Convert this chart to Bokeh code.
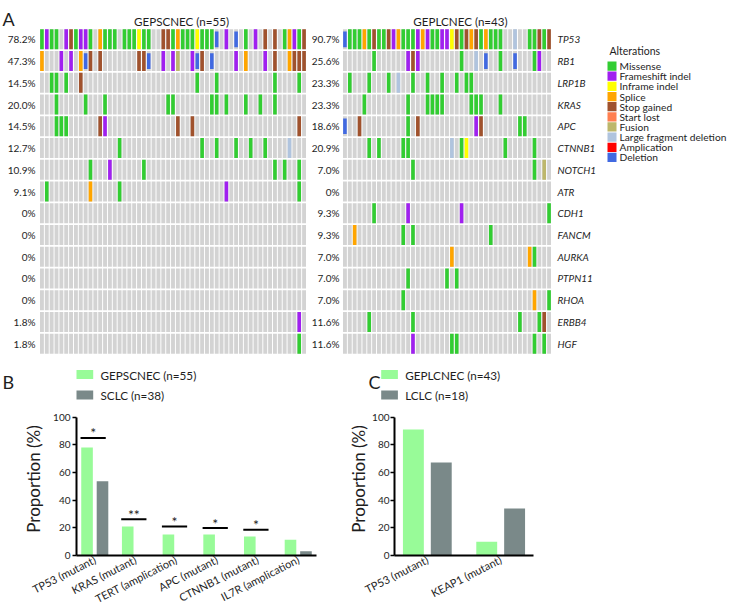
from bokeh.plotting import figure
from bokeh.models import (Range1d, FixedTicker, LinearAxis, ColumnDataSource,
                          FactorRange)
from bokeh.layouts import row, column
from bokeh.transform import dodge
from bokeh.embed import file_html
from bokeh.resources import INLINE
from bokeh.core.properties import value

FONT = "Lato"
INK = "#1e1e1e"
EMPTY = "#D3D3D3"
GREEN = "#98FB98"
GREY = "#7A8989"

# ---------------- data: oncoprint ----------------
genes = ["TP53", "RB1", "LRP1B", "KRAS", "APC", "CTNNB1", "NOTCH1", "ATR",
         "CDH1", "FANCM", "AURKA", "PTPN11", "RHOA", "ERBB4", "HGF"]

sc_title = "GEPSCNEC (n=55)"
lc_title = "GEPLCNEC (n=43)"

sc_pct = ["78.2%", "47.3%", "14.5%", "20.0%", "14.5%", "12.7%", "10.9%", "9.1%",
          "0%", "0%", "0%", "0%", "0%", "1.8%", "1.8%"]
lc_pct = ["90.7%", "25.6%", "23.3%", "23.3%", "18.6%", "20.9%", "7.0%", "0%",
          "9.3%", "9.3%", "7.0%", "7.0%", "7.0%", "11.6%", "11.6%"]

# one character per sample (see alt_codes); "." = no alteration
sc_rows = [
    "mfmm.fgmff" "m.smmm.mmm" "imm..ggmsm" "mmimmmx.f." "x.m.f.g.g." "msfmg",  # TP53
    "s...f.f.sx" "g.g......." "ggx..f.fu." ".fxg.x...." "f.s...f.g." ".sggg",  # RB1
    "..mm.m..g." ".........." ".........." "..m...m..." "........m." "...m.",  # LRP1B
    "...m.....m" "...m......" "......mm.." ".....mm.m." "..m..m..m." ".....",  # KRAS
    "...mmm...." "..gf......" "........g." ".g........" ".........." "...g.",  # APC
    ".........." "......m..." ".........." "...m..m..." "m..m..m..." ".d...",  # CTNNB1
    ".........." "m...f....." ".m........" ".........." "........m." "m..m.",  # NOTCH1
    ".m........" "s.....m..." ".........." "........f." ".........." "...m.",  # ATR
    ".........." ".........." ".........." ".........." ".........." ".....",  # CDH1
    ".........." ".........." ".........." ".........." ".........." ".....",  # FANCM
    ".........." ".........." ".........." ".........." ".........." ".....",  # AURKA
    ".........." ".........." ".........." ".........." ".........." ".....",  # PTPN11
    ".........." ".........." ".........." ".........." ".........." ".....",  # RHOA
    ".........." ".........." ".........." ".........." ".........." "...f.",  # ERBB4
    ".........." ".........." ".........." ".........." ".........." "...m.",  # HGF
]

lc_rows = [
    "xmmmsmgmmg" "fsmmmfsfmm" "ffigmgsgms" "mmm..d..mm" "gmg",  # TP53
    "......m..." "...fgf...." "....m..d.x" "..m..x...m" "f..",  # RB1
    ".m...m...m" ".d..m..m.." "m..m.mm..." ".........." "...",  # LRP1B
    "....m....." "...m...mmm" "m.....mmm." "..m......." "...",  # KRAS
    "x..g......" "...m.g...." ".......fg." "......mm.." "...",  # APC
    ".....m.m.." "..mm......" "..d.mi...." "...m.....m" "...",  # CTNNB1
    ".........." "....m....." ".........." ".........m" ".u.",  # NOTCH1
    ".........." ".........." ".........." ".........." "...",  # ATR
    "......m..." "...f......" "....f....." ".........." "..m",  # CDH1
    "..s......." "..m.m....." ".........." "m........." "...",  # FANCM
    ".........." ".........." "..s......." "........sm" "...",  # AURKA
    ".........." "...m......" ".m.m......" ".........." "...",  # PTPN11
    ".........." "..m......." ".........." ".........s" "..m",  # RHOA
    ".....m...." "....m....." ".........." "......m..." "mg.",  # ERBB4
    ".........." "....f....." "..mm......" ".........m" ".m.",  # HGF
]

alt_codes = ["m", "f", "i", "s", "g", "l", "u", "d", "a", "x"]
alt_names = ["Missense", "Frameshift indel", "Inframe indel", "Splice", "Stop gained",
             "Start lost", "Fusion", "Large fragment deletion", "Amplication", "Deletion"]
alt_colors = ["#32CD32", "#A020F0", "#FFFF00", "#FFA500", "#A0522D",
              "#FF7F50", "#BDB76B", "#B0C4DE", "#FF0000", "#4169E1"]
legend_title = "Alterations"

# ---------------- data: bar panels ----------------
b_cats = ["TP53 (mutant)", "KRAS (mutant)", "TERT (amplication)", "APC (mutant)",
          "CTNNB1 (mutant)", "IL7R (amplication)"]
b_gep = [78.0, 21.0, 15.2, 15.2, 13.7, 11.3]
b_sclc = [53.7, 0.0, 0.0, 0.0, 0.0, 3.0]
b_sig_cats = ["TP53 (mutant)", "KRAS (mutant)", "TERT (amplication)", "APC (mutant)",
              "CTNNB1 (mutant)"]
b_sig_y = [85.0, 26.2, 21.0, 19.8, 18.6]
b_sig_lab = ["*", "**", "*", "*", "*"]
b_names = ["GEPSCNEC (n=55)", "SCLC (n=38)"]

c_cats = ["TP53 (mutant)", "KEAP1 (mutant)"]
c_gep = [91.0, 10.0]
c_lclc = [67.3, 34.0]
c_names = ["GEPLCNEC (n=43)", "LCLC (n=18)"]

panel_letters = ["A", "B", "C"]


def bare(p):
    p.outline_line_color = None
    p.grid.visible = False
    p.background_fill_color = "white"
    p.border_fill_color = "white"


def cells(rows, code=None):
    xs, ys = [], []
    for k, r in enumerate(rows):
        for i, c in enumerate(r):
            if code is None or c == code:
                xs.append(i)
                ys.append(k)
    return xs, ys


def plain_axis(ax, standoff, size, style="normal"):
    ax.axis_line_color = None
    ax.major_tick_line_color = None
    ax.minor_tick_line_color = None
    ax.major_tick_out = 0
    ax.major_tick_in = 0
    ax.minor_tick_out = 0
    ax.minor_tick_in = 0
    ax.major_label_standoff = standoff
    ax.major_label_text_font = FONT
    ax.major_label_text_font_size = size
    ax.major_label_text_font_style = style
    ax.major_label_text_color = INK


def oncoprint(rows, pct, width, b_left, b_right, std):
    n = len(rows[0])
    g = len(rows)
    p = figure(width=width, height=334, x_range=Range1d(-0.5, n - 0.5),
               y_range=Range1d(g - 0.5, -0.5), x_axis_location=None,
               y_axis_location="left", output_backend="svg", toolbar_location=None,
               min_border_left=b_left, min_border_right=b_right, min_border_top=0,
               min_border_bottom=8)
    bare(p)
    bx, by = cells(rows)
    p.rect(x=bx, y=by, width=0.8, height=0.92, fill_color=EMPTY, line_color=None)
    for code, color in zip(alt_codes, alt_colors):
        cx, cy = cells(rows, code)
        h = 0.72 if code == "x" else 0.92
        p.rect(x=cx, y=cy, width=0.74, height=h, fill_color=color, line_color=None)
    ax = p.yaxis[0]
    ax.ticker = FixedTicker(ticks=list(range(g)))
    ax.major_label_overrides = {k: pct[k] for k in range(g)}
    plain_axis(ax, std, "10px")
    return p


# ---------------- top header: letter + panel titles ----------------
hT = figure(width=734, height=28, x_range=Range1d(0, 734), y_range=Range1d(28, 0),
            x_axis_location=None, y_axis_location=None, output_backend="svg",
            toolbar_location=None, min_border=0)
bare(hT)
hT.text(x=[2], y=[18], text=[panel_letters[0]], text_font=value(FONT),
        text_font_size="18px", text_baseline="alphabetic", text_color=INK)
hT.text(x=[181, 460], y=[20.7, 20.7], text=[sc_title, lc_title], text_font=value(FONT),
        text_font_size="11.6px", text_baseline="alphabetic", text_align="center",
        text_color=INK)

# ---------------- oncoprints ----------------
pL = oncoprint(sc_rows, sc_pct, 306, 39, 0, 4)
pR = oncoprint(lc_rows, lc_pct, 295, 36, 50, 3)
gax = LinearAxis(ticker=FixedTicker(ticks=list(range(len(genes)))),
                 major_label_overrides={k: genes[k] for k in range(len(genes))})
plain_axis(gax, 6, "10px", "italic")
pR.add_layout(gax, "right")

# ---------------- alteration legend ----------------
pG = figure(width=133, height=334, x_range=Range1d(0, 133), y_range=Range1d(28.41, -3.70),
            x_axis_location=None, y_axis_location=None, output_backend="svg",
            toolbar_location=None, min_border=0)
bare(pG)
idx = list(range(len(alt_names)))
pG.rect(x=10.5, y=idx, width=9, height=0.91, fill_color=alt_colors, line_color=None)
pG.text(x=18, y=idx, text=alt_names, text_font=value(FONT), text_font_size="10.2px",
        text_baseline="middle", text_color=INK)
pG.text(x=[8], y=[-1.5], text=[legend_title], text_font=value(FONT),
        text_font_size="10.5px", text_baseline="middle", text_color=INK)

# ---------------- bottom header: letters + bar legends ----------------
hB = figure(width=734, height=40, x_range=Range1d(0, 734), y_range=Range1d(40, 0),
            x_axis_location=None, y_axis_location=None, output_backend="svg",
            toolbar_location=None, min_border=0)
bare(hB)
hB.text(x=[2, 368], y=[19, 19], text=panel_letters[1:], text_font=value(FONT),
        text_font_size="18px", text_baseline="alphabetic", text_color=INK)
for x0, names in ((76, b_names), (380.7, c_names)):
    ys = [12 + 20.4 * k for k in range(len(names))]
    hB.rect(x=x0 + 8.35, y=ys, width=16.7, height=9, fill_color=[GREEN, GREY],
            line_color=None)
    hB.text(x=x0 + 24, y=ys, text=names, text_font=value(FONT), text_font_size="11.7px",
            text_baseline="middle", text_color=INK)


# ---------------- bar panels ----------------
def bar_panel(cats, a_vals, b_vals, width, b_left, b_right, pad, tick_std, lab_std,
              sig=None):
    src = ColumnDataSource(dict(cat=cats, a=a_vals, b=b_vals))
    p = figure(width=width, height=211,
               x_range=FactorRange(factors=cats, range_padding=pad),
               y_range=Range1d(0, 110.6), output_backend="svg", toolbar_location=None,
               min_border_left=b_left, min_border_right=b_right, min_border_top=0,
               min_border_bottom=58)
    bare(p)
    p.vbar(x=dodge("cat", -0.19, range=p.x_range), top="a", width=0.285,
           source=src, fill_color=GREEN, line_color=None)
    p.vbar(x=dodge("cat", 0.19, range=p.x_range), top="b", width=0.285,
           source=src, fill_color=GREY, line_color=None)
    if sig is not None:
        s = ColumnDataSource(dict(cat=sig[0], y=sig[1], lab=sig[2]))
        p.segment(x0=dodge("cat", -0.35, range=p.x_range),
                  x1=dodge("cat", 0.27, range=p.x_range), y0="y", y1="y",
                  source=s, line_color="black", line_width=2)
        p.text(x=dodge("cat", -0.04, range=p.x_range), y="y", text="lab", source=s,
               text_align="center", text_baseline="alphabetic", y_offset=-5,
               text_font=value(FONT), text_font_size="14px", text_color=INK)
    ya = p.yaxis[0]
    ya.ticker = FixedTicker(ticks=[0, 20, 40, 60, 80, 100])
    ya.bounds = (0, 100)
    ya.axis_line_width = 2
    ya.axis_line_color = "black"
    ya.major_tick_line_width = 1.5
    ya.major_tick_out = 4
    ya.major_tick_in = 0
    ya.minor_tick_line_color = None
    ya.major_label_standoff = tick_std
    ya.major_label_text_font = FONT
    ya.major_label_text_font_size = "10px"
    ya.major_label_text_color = INK
    ya.axis_label = "Proportion (%)"
    ya.axis_label_text_font = FONT
    ya.axis_label_text_font_size = "17px"
    ya.axis_label_text_font_style = "normal"
    ya.axis_label_text_color = INK
    ya.axis_label_standoff = lab_std
    xa = p.xaxis[0]
    xa.axis_line_width = 2
    xa.axis_line_color = "black"
    xa.major_tick_line_color = None
    xa.minor_tick_line_color = None
    xa.major_tick_out = 0
    xa.major_tick_in = 0
    xa.major_label_standoff = 3
    xa.major_label_orientation = 0.47
    xa.major_label_text_font = FONT
    xa.major_label_text_font_size = "11px"
    xa.major_label_text_color = INK
    return p


pB = bar_panel(b_cats, b_gep, b_sclc, 345, 76, 29, -0.017, 2, 6,
               sig=(b_sig_cats, b_sig_y, b_sig_lab))
pC = bar_panel(c_cats, c_gep, c_lclc, 389, 44, 201, -0.0525, 1, 0)

layout = column(hT, row(pL, pR, pG), hB, row(pB, pC))
open("out.html", "w").write(file_html(layout, INLINE))
